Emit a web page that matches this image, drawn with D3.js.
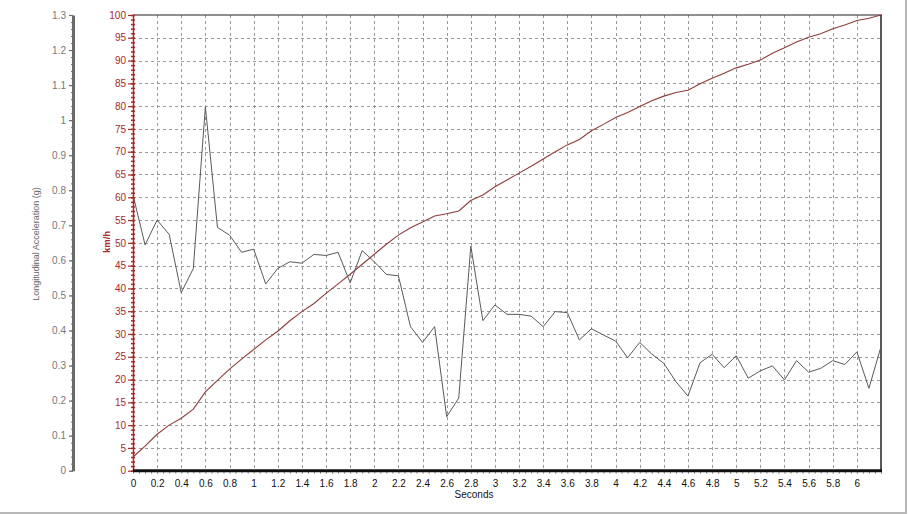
<!DOCTYPE html>
<html>
<head>
<meta charset="utf-8">
<script src="https://cdn.jsdelivr.net/npm/d3@7"></script>
<style>
html,body{margin:0;padding:0;background:#fff;}
svg{display:block;}
text{font-family:"Liberation Sans",Arial,sans-serif;}
</style>
</head>
<body>
<svg id="chart" width="908" height="514"></svg>
<script>
// ---- data ----
const times = [0,0.1,0.2,0.3,0.4,0.5,0.6,0.7,0.8,0.9,1.0,1.1,1.2,1.3,1.4,1.5,1.6,1.7,1.8,1.9,2.0,2.1,2.2,2.3,2.4,2.5,2.6,2.7,2.8,2.9,3.0,3.1,3.2,3.3,3.4,3.5,3.6,3.7,3.8,3.9,4.0,4.1,4.2,4.3,4.4,4.5,4.6,4.7,4.8,4.9,5.0,5.1,5.2,5.3,5.4,5.5,5.6,5.7,5.8,5.9,6.0,6.1,6.2];
const accelG = [0.787,0.644,0.715,0.674,0.508,0.577,1.038,0.694,0.672,0.623,0.632,0.533,0.577,0.596,0.592,0.617,0.614,0.623,0.536,0.628,0.596,0.560,0.556,0.411,0.366,0.411,0.154,0.207,0.641,0.428,0.473,0.446,0.446,0.441,0.411,0.454,0.451,0.373,0.405,0.387,0.370,0.322,0.366,0.333,0.306,0.254,0.213,0.308,0.332,0.294,0.328,0.264,0.285,0.299,0.259,0.314,0.281,0.292,0.314,0.303,0.339,0.235,0.354];
const speedKmh = [3.0,5.4,8.0,10.0,11.5,13.5,17.3,19.8,22.3,24.5,26.6,28.7,30.6,32.9,34.9,36.7,38.9,41.0,43.1,45.3,47.5,49.7,51.7,53.3,54.6,55.9,56.4,57.0,59.3,60.5,62.3,63.8,65.3,66.8,68.4,70.0,71.5,72.7,74.6,76.0,77.5,78.6,79.9,81.2,82.2,83.0,83.5,84.9,86.1,87.2,88.4,89.2,90.1,91.6,92.8,94.1,95.1,95.9,97.0,97.8,98.8,99.3,100.0];
const xTicks = [0,0.2,0.4,0.6,0.8,1,1.2,1.4,1.6,1.8,2,2.2,2.4,2.6,2.8,3,3.2,3.4,3.6,3.8,4,4.2,4.4,4.6,4.8,5,5.2,5.4,5.6,5.8,6];
const gTicks = [0,0.1,0.2,0.3,0.4,0.5,0.6,0.7,0.8,0.9,1,1.1,1.2,1.3];
const kmhTicks = [0,5,10,15,20,25,30,35,40,45,50,55,60,65,70,75,80,85,90,95,100];
const xTitle = "Seconds";
const gTitle = "Longitudinal Acceleration (g)";
const kmhTitle = "km/h";

// ---- layout ----
const svg = d3.select("#chart");
const L = 133, R = 881, T = 15, B = 470.7;
const gAxisX = 73;
const red = "#a52a2a";
const FONT = "Liberation Sans, Arial, sans-serif";

const x = d3.scaleLinear().domain([0, 6.2]).range([L, R]);
const yG = d3.scaleLinear().domain([0, 1.3]).range([B, T]);
const yV = d3.scaleLinear().domain([0, 100]).range([B, T]);

// outer frame (light gray)
svg.append("line").attr("x1",0).attr("x2",906).attr("y1",513).attr("y2",513).attr("stroke","#b8b8b8").attr("stroke-width",2);
svg.append("line").attr("x1",906).attr("x2",906).attr("y1",0).attr("y2",514).attr("stroke","#b8b8b8").attr("stroke-width",2);

// grid
const grid = svg.append("g").attr("stroke","#999").attr("stroke-width",1).attr("stroke-dasharray","3,3");
grid.selectAll("line.v").data(xTicks.filter(d=>d>0)).join("line")
  .attr("x1",d=>Math.round(x(d))+0.5).attr("x2",d=>Math.round(x(d))+0.5)
  .attr("y1",T).attr("y2",B);
grid.selectAll("line.h").data(kmhTicks.filter(d=>d>0 && d<100)).join("line")
  .attr("x1",L).attr("x2",R)
  .attr("y1",d=>Math.round(yV(d))+0.5).attr("y2",d=>Math.round(yV(d))+0.5);

// frame top & right
svg.append("line").attr("x1",L).attr("x2",R+1).attr("y1",T).attr("y2",T).attr("stroke","#222").attr("stroke-width",1.2);
svg.append("line").attr("x1",R).attr("x2",R).attr("y1",T).attr("y2",B).attr("stroke","#222").attr("stroke-width",1.5);

// lines
const lineG = d3.line().x((d,i)=>x(times[i])).y(d=>yG(d));
const lineV = d3.line().x((d,i)=>x(times[i])).y(d=>yV(d));
svg.append("path").datum(speedKmh).attr("d",lineV).attr("fill","none").attr("stroke","#8e3b3b").attr("stroke-width",1.1);
svg.append("path").datum(accelG).attr("d",lineG).attr("fill","none").attr("stroke","#5a5a5a").attr("stroke-width",1);

// left g axis
const fmt = d => d3.format("~g")(+d.toFixed(2));
const gMinor = svg.append("g").attr("transform",`translate(${gAxisX},0)`)
  .call(d3.axisLeft(yG).ticks(65).tickSize(2).tickFormat(""));
gMinor.select(".domain").remove();
gMinor.selectAll("line").attr("stroke","#777");
const gAx = svg.append("g").attr("transform",`translate(${gAxisX},0)`)
  .call(d3.axisLeft(yG).tickValues(gTicks).tickSize(4).tickSizeOuter(0).tickFormat(fmt).tickPadding(3));
gAx.select(".domain").attr("stroke","#6a6a6a").attr("stroke-width",3);
gAx.selectAll(".tick line").attr("stroke","#6a6a6a").attr("stroke-width",1.2);
gAx.selectAll("text").attr("fill","#777").attr("font-size",10).attr("font-family",FONT);

// km/h axis
const vMinor = svg.append("g").attr("transform",`translate(${L},0)`)
  .call(d3.axisLeft(yV).ticks(100).tickSize(2).tickFormat(""));
vMinor.select(".domain").remove();
vMinor.selectAll("line").attr("stroke",red).attr("x2",2).attr("x1",-2).attr("stroke-width",1.5);
const vAx = svg.append("g").attr("transform",`translate(${L},0)`)
  .call(d3.axisLeft(yV).tickValues(kmhTicks).tickSize(5).tickSizeOuter(0).tickPadding(2));
vAx.select(".domain").attr("stroke",red).attr("stroke-width",1.5);
vAx.selectAll(".tick line").attr("stroke",red).attr("stroke-width",1.2).attr("x2",-5).attr("x1",2);
vAx.selectAll("text").attr("fill",red).attr("font-size",10).attr("font-family",FONT);

// bottom axis
const xMinor = svg.append("g").attr("transform",`translate(0,${B})`)
  .call(d3.axisBottom(x).ticks(124).tickSize(3).tickFormat(""));
xMinor.select(".domain").remove();
xMinor.selectAll("line").attr("stroke","#888");
const xAx = svg.append("g").attr("transform",`translate(0,${B})`)
  .call(d3.axisBottom(x).tickValues(xTicks).tickSize(0).tickSizeOuter(0).tickFormat(fmt).tickPadding(9));
xAx.select(".domain").remove();
xAx.selectAll("text").attr("fill","#111").attr("font-size",10).attr("font-family",FONT);
svg.append("line").attr("x1",L).attr("x2",R+1).attr("y1",B).attr("y2",B).attr("stroke","#111").attr("stroke-width",3);

// titles
svg.append("text").attr("x",474).attr("y",498).attr("text-anchor","middle").attr("font-size",10).attr("fill","#111").text(xTitle);
svg.append("text").attr("transform","translate(39,244) rotate(-90)").attr("text-anchor","middle").attr("font-size",9).attr("fill","#666").text(gTitle);
svg.append("text").attr("transform","translate(110,242) rotate(-90)").attr("text-anchor","middle").attr("font-size",9.5).attr("font-weight","bold").attr("fill",red).text(kmhTitle);
</script>
</body>
</html>
